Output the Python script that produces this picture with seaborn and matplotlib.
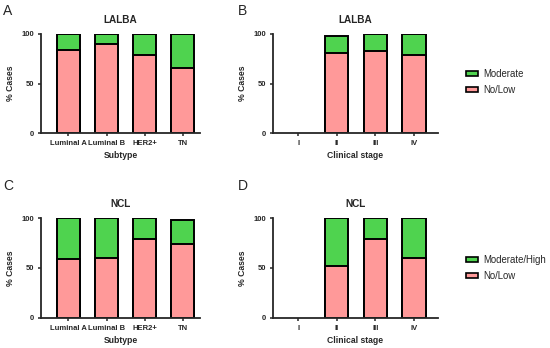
import matplotlib
matplotlib.use('AGG')
import matplotlib.pyplot as plt
import seaborn as sns
import pandas as pd
from matplotlib.patches import Patch

# data (% cases)
subtypes = ["Luminal A", "Luminal B", "HER2+", "TN"]
stages_all = ["I", "II", "III", "IV"]
stages = ["II", "III", "IV"]

lalba_sub_low = [84, 90, 79, 66]
lalba_sub_high = [16, 10, 21, 34]
lalba_stage_low = [81, 83, 79]
lalba_stage_high = [17, 17, 21]

ncl_sub_low = [59, 60, 79, 74]
ncl_sub_high = [41, 40, 21, 24]
ncl_stage_low = [52, 79, 60]
ncl_stage_high = [48, 21, 40]

GREEN = "#4FD34F"
PINK = "#FF9999"

sns.set_style("ticks")
plt.rcParams['font.family'] = ['Liberation Sans', 'DejaVu Sans']

W, H = 550, 348
fig = plt.figure(figsize=(W / 100, H / 100), dpi=100)


def add_axes(left, right, top, bottom):
    return fig.add_axes([left / W, 1 - bottom / H, (right - left) / W, (bottom - top) / H])


def stacked(ax, cats, order, low, high, title, xlabel, xlim):
    df = pd.DataFrame({"cat": cats, "low": low, "total": [a + b for a, b in zip(low, high)]})
    sns.barplot(data=df, x="cat", y="total", order=order, color=GREEN, width=0.6,
                edgecolor="black", linewidth=1.4, saturation=1, ax=ax)
    sns.barplot(data=df, x="cat", y="low", order=order, color=PINK, width=0.6,
                edgecolor="black", linewidth=1.4, saturation=1, ax=ax)
    ax.set_ylim(0, 100)
    ax.set_xlim(*xlim)
    ax.set_yticks([0, 50, 100])
    ax.set_title(title, fontsize=7.2, fontweight="bold", pad=8)
    ax.set_xlabel(xlabel, fontsize=6.2, fontweight="bold", labelpad=3)
    ax.set_ylabel("% Cases", fontsize=6.2, fontweight="bold", labelpad=4.5)
    ax.tick_params(axis="both", labelsize=5.5, width=1.1, length=2.5, pad=2.5)
    for lab in ax.get_xticklabels() + ax.get_yticklabels():
        lab.set_fontweight("bold")
    sns.despine(ax=ax)
    for s in ["left", "bottom"]:
        ax.spines[s].set_linewidth(1.3)


axA = add_axes(41, 200, 34, 133)
axB = add_axes(273, 438, 34, 133)
axC = add_axes(41, 200, 218, 318)
axD = add_axes(273, 438, 218, 318)

stacked(axA, subtypes, subtypes, lalba_sub_low, lalba_sub_high, "LALBA", "Subtype", (-0.72, 3.45))
stacked(axB, stages, stages_all, lalba_stage_low, lalba_stage_high, "LALBA", "Clinical stage", (-0.65, 3.62))
stacked(axC, subtypes, subtypes, ncl_sub_low, ncl_sub_high, "NCL", "Subtype", (-0.72, 3.45))
stacked(axD, stages, stages_all, ncl_stage_low, ncl_stage_high, "NCL", "Clinical stage", (-0.65, 3.62))

for letter, x, y in [("A", 3, 15), ("B", 238, 15), ("C", 3, 190), ("D", 238, 190)]:
    fig.text(x / W, 1 - y / H, letter, fontsize=10, ha="left", va="baseline")

for labels, yc in [(["Moderate", "No/Low"], 82), (["Moderate/High", "No/Low"], 268)]:
    handles = [Patch(facecolor=GREEN, edgecolor="black", linewidth=1.2),
               Patch(facecolor=PINK, edgecolor="black", linewidth=1.2)]
    fig.legend(handles, labels, loc="center left", bbox_to_anchor=(466 / W, 1 - yc / H),
               frameon=False, fontsize=6.9, handlelength=1.2, handleheight=0.5,
               handletextpad=0.6, labelspacing=0.6, borderpad=0, borderaxespad=0)

plt.savefig("out.png", dpi=100)
